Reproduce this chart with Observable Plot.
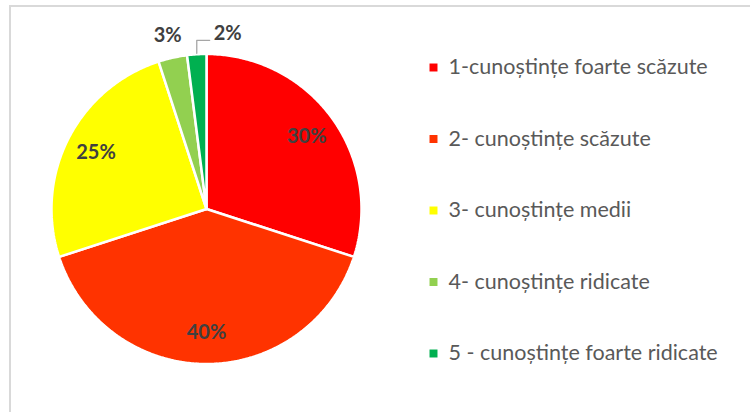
<!DOCTYPE html>
<html>
<head>
<meta charset="utf-8">
<script src="https://cdn.jsdelivr.net/npm/d3@7"></script>
<script src="https://cdn.jsdelivr.net/npm/@observablehq/plot@0.6"></script>
<style>
  html, body { margin: 0; padding: 0; background: #fff; }
  #wrap { position: relative; width: 750px; height: 412px; overflow: hidden; }
  #frame { position: absolute; left: 9px; top: 5px; width: 800px; height: 450px;
           border: 2px solid #d9d9d9; box-sizing: border-box; pointer-events: none; }
</style>
</head>
<body>
<div id="wrap"><div id="frame"></div></div>
<script>
const categories = [
  "1-cunoștințe foarte scăzute",
  "2- cunoștințe scăzute",
  "3- cunoștințe medii",
  "4- cunoștințe ridicate",
  "5 - cunoștințe foarte ridicate"
];
const values = [30, 40, 25, 3, 2];
const labels = ["30%", "40%", "25%", "3%", "2%"];
const colors = ["#FF0000", "#FF3300", "#FFFF00", "#92D050", "#00B050"];

const W = 750, H = 412;
const cx = 206, cy = 208.5, R = 155;
const inR = 124, outR = 178;

const arcs = d3.pie().sort(null).value(d => d)(values);

const slicePts = [];
arcs.forEach((a, i) => {
  const n = Math.max(4, Math.ceil((a.endAngle - a.startAngle) / 0.01));
  slicePts.push({k: i, x: cx, y: cy});
  for (let j = 0; j <= n; j++) {
    const t = a.startAngle + (a.endAngle - a.startAngle) * j / n;
    slicePts.push({k: i, x: cx + R * Math.sin(t), y: cy - R * Math.cos(t)});
  }
  slicePts.push({k: i, x: cx, y: cy});
});

const inside = [], outside = [], leaders = [];
arcs.forEach((a, i) => {
  const m = (a.startAngle + a.endAngle) / 2;
  if (values[i] >= 5) {
    inside.push({t: labels[i], x: cx + inR * Math.sin(m), y: cy - inR * Math.cos(m)});
  } else {
    let x = cx + outR * Math.sin(m), y = cy - outR * Math.cos(m);
    const prev = outside[outside.length - 1];
    if (prev && Math.abs(prev.x - x) < 40) {
      x = prev.x + 60; y = prev.y - 2;
      const ex = cx + R * Math.sin(m), ey = cy - R * Math.cos(m);
      leaders.push({g: i, x: ex, y: ey - 1}, {g: i, x: ex, y: y + 7}, {g: i, x: x - 18, y: y + 7});
    }
    outside.push({t: labels[i], x, y});
  }
});

const legend = categories.map((c, i) => ({c, i}));
const legX = 433, legY0 = 67, legDy = 71.5;

const plot = Plot.plot({
  width: W, height: H,
  margin: 0,
  x: {domain: [0, W], range: [0, W], axis: null},
  y: {domain: [0, H], range: [0, H], axis: null},
  color: {domain: d3.range(categories.length), range: colors},
  style: {background: "transparent"},
  marks: [
    Plot.line(slicePts, {x: "x", y: "y", z: "k", fill: d => d.k, stroke: "#fff", strokeWidth: 2.5, strokeLinejoin: "miter", curve: "linear"}),
    Plot.line(leaders, {x: "x", y: "y", z: "g", stroke: "#a6a6a6", strokeWidth: 1.3}),
    Plot.text(inside, {x: "x", y: "y", text: "t", fill: "#404040", fontSize: 20, fontWeight: "bold", fontFamily: "Lato", textAnchor: "middle"}),
    Plot.text(outside, {x: "x", y: "y", text: "t", fill: "#404040", fontSize: 20, fontWeight: "bold", fontFamily: "Lato", textAnchor: "middle"}),
    Plot.dot(legend, {x: () => legX, y: d => legY0 + d.i * legDy, fill: d => d.i, symbol: "square", r: 4.5, stroke: null}),
    Plot.text(legend, {x: () => legX + 15, y: d => legY0 + d.i * legDy, text: "c", fill: "#595959", fontSize: 21.5, fontFamily: "Lato", textAnchor: "start"})
  ]
});
plot.style.position = "absolute";
plot.style.left = "0px";
plot.style.top = "0px";
document.getElementById("wrap").appendChild(plot);
</script>
</body>
</html>
